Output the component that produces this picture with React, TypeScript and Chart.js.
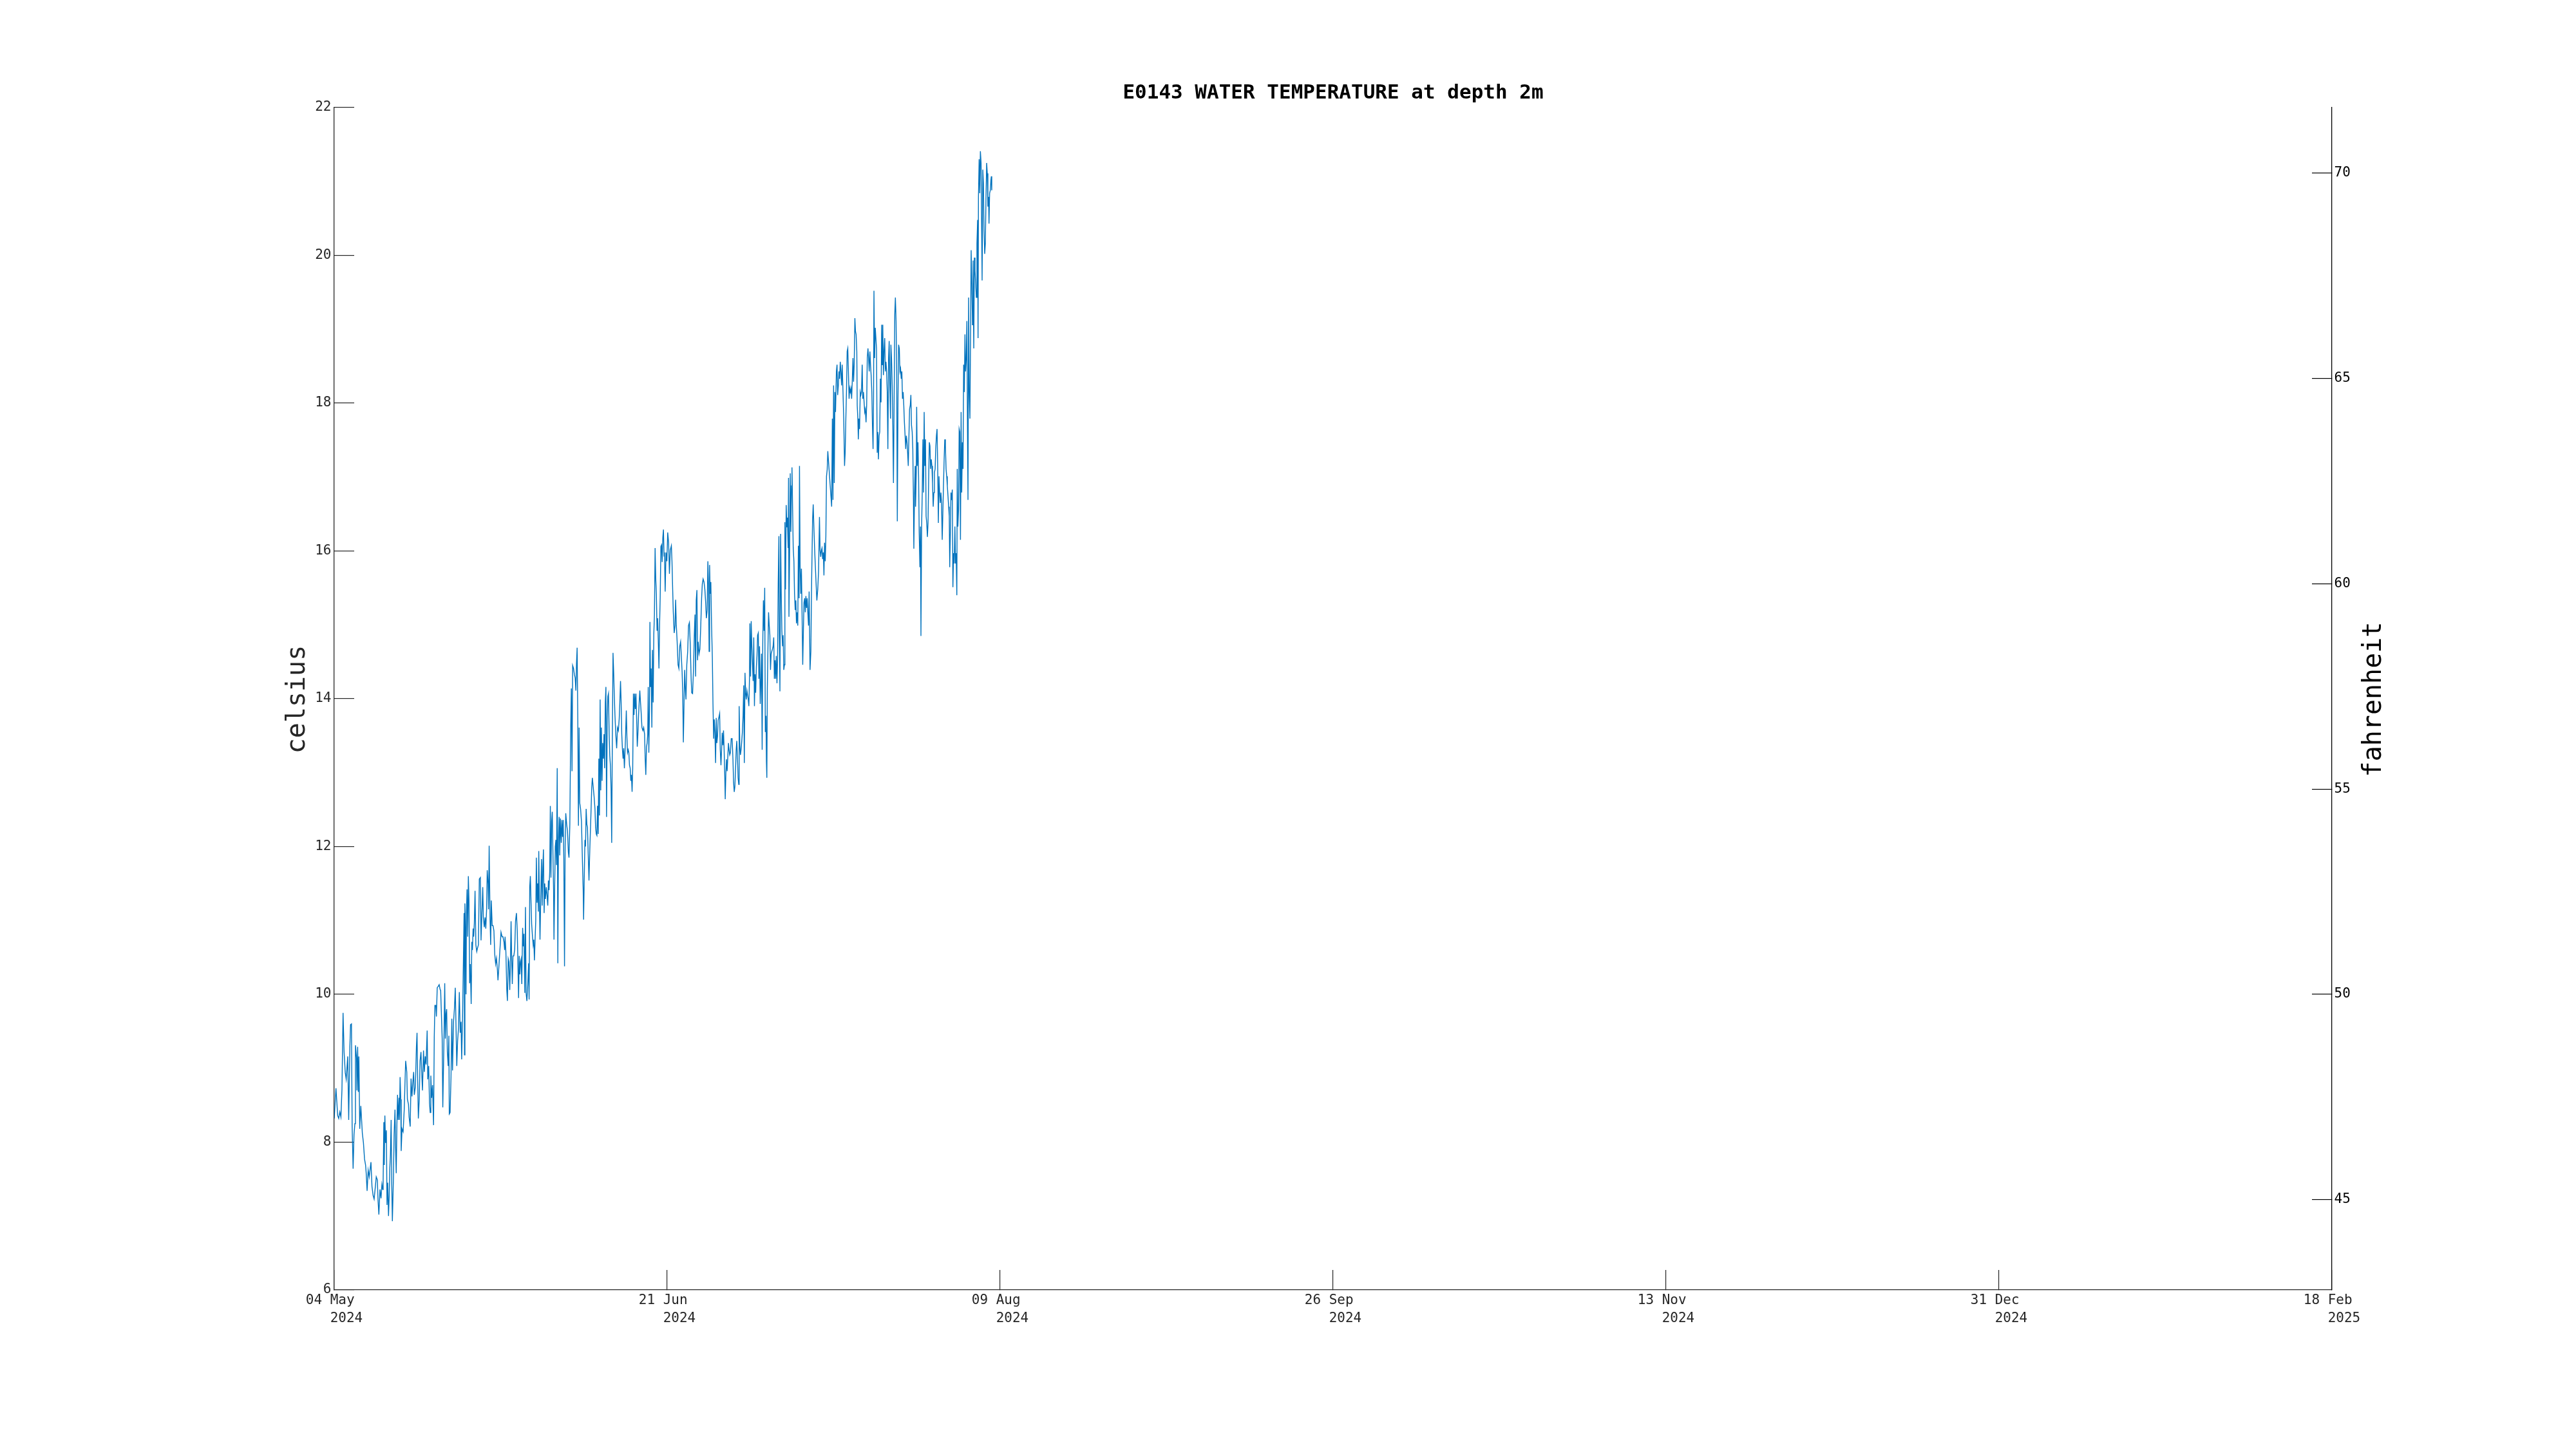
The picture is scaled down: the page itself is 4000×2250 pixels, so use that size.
import React, { useEffect, useRef } from "react";
import { Chart, registerables } from "chart.js";

Chart.register(...registerables);

const chartTitle = "E0143 WATER TEMPERATURE at depth 2m";
const leftAxisTitle = "celsius";
const rightAxisTitle = "fahrenheit";

// x axis: days since 04 May 2024
const xTickDays = [0, 48.333, 96.667, 145, 193.333, 241.667, 290];
const xTickLabels = [
  ["04 May ", "   2024"],
  ["21 Jun ", "   2024"],
  ["09 Aug ", "   2024"],
  ["26 Sep ", "   2024"],
  ["13 Nov ", "   2024"],
  ["31 Dec ", "   2024"],
  ["18 Feb ", "   2025"],
];
const celsiusTicks = [6, 8, 10, 12, 14, 16, 18, 20, 22];
const fahrenheitTicks = [45, 50, 55, 60, 65, 70];

const sampleDays = [
  0, 0.25, 0.5, 0.65, 0.81, 0.97, 1.12, 1.28, 1.43, 1.6,
  1.74, 1.96, 2.1, 2.27, 2.37, 2.5, 2.6, 2.74, 2.87, 3.0,
  3.08, 3.24, 3.3, 3.4, 3.5, 3.58, 3.7, 3.86, 4.08, 4.24,
  4.4, 4.55, 4.64, 4.77, 4.93, 5.08, 5.23, 5.33, 5.48, 5.64,
  5.79, 5.95, 6.1, 6.26, 6.36, 6.48, 6.64, 6.79, 6.92, 7.04,
  7.1, 7.2, 7.26, 7.35, 7.45, 7.57, 7.66, 7.76, 7.88, 7.98,
  8.07, 8.16, 8.26, 8.35, 8.44, 8.6, 8.69, 8.82, 8.91, 9.0,
  9.1, 9.19, 9.28, 9.41, 9.47, 9.56, 9.66, 9.72, 9.84, 10.0,
  10.16, 10.25, 10.37, 10.53, 10.62, 10.78, 10.87, 11.03, 11.15, 11.28,
  11.4, 11.53, 11.62, 11.78, 11.93, 12.02, 12.12, 12.21, 12.34, 12.46,
  12.59, 12.68, 12.81, 12.96, 13.08, 13.21, 13.33, 13.49, 13.58, 13.71,
  13.83, 13.93, 14.02, 14.14, 14.27, 14.42, 14.52, 14.61, 14.74, 14.83,
  14.95, 15.11, 15.23, 15.36, 15.45, 15.55, 15.67, 15.76, 15.92, 16.04,
  16.13, 16.23, 16.32, 16.42, 16.54, 16.64, 16.7, 16.82, 16.95, 17.07,
  17.17, 17.32, 17.45, 17.57, 17.69, 17.79, 17.91, 18.04, 18.16, 18.29,
  18.41, 18.5, 18.63, 18.75, 18.85, 18.91, 18.97, 19.07, 19.13, 19.19,
  19.28, 19.38, 19.47, 19.56, 19.66, 19.75, 19.88, 19.97, 20.06, 20.16,
  20.25, 20.34, 20.44, 20.56, 20.69, 20.81, 20.93, 21.06, 21.21, 21.31,
  21.43, 21.56, 21.65, 21.78, 21.9, 22.0, 22.12, 22.21, 22.34, 22.4,
  22.49, 22.62, 22.71, 22.8, 22.93, 23.05, 23.18, 23.3, 23.43, 23.55,
  23.68, 23.77, 23.9, 24.05, 24.21, 24.36, 24.49, 24.64, 24.74, 24.8,
  24.92, 25.05, 25.14, 25.26, 25.36, 25.48, 25.57, 25.67, 25.76, 25.85,
  25.95, 26.07, 26.2, 26.32, 26.45, 26.57, 26.67, 26.76, 26.85, 26.95,
  27.04, 27.13, 27.23, 27.35, 27.45, 27.54, 27.66, 27.76, 27.85, 27.97,
  28.1, 28.22, 28.29, 28.38, 28.47, 28.57, 28.66, 28.78, 28.88, 28.97,
  29.06, 29.16, 29.25, 29.34, 29.44, 29.53, 29.63, 29.69, 29.78, 29.87,
  30.0, 30.09, 30.19, 30.28, 30.37, 30.47, 30.56, 30.65, 30.78, 30.9,
  31.0, 31.09, 31.18, 31.28, 31.37, 31.46, 31.56, 31.65, 31.74, 31.84,
  31.9, 31.99, 32.09, 32.18, 32.27, 32.37, 32.46, 32.55, 32.65, 32.74,
  32.83, 32.96, 33.05, 33.15, 33.24, 33.33, 33.43, 33.52, 33.61, 33.74,
  33.86, 33.99, 34.08, 34.2, 34.33, 34.42, 34.52, 34.61, 34.74, 34.86,
  34.98, 35.08, 35.17, 35.26, 35.36, 35.45, 35.55, 35.64, 35.76, 35.89,
  36.01, 36.14, 36.2, 36.29, 36.39, 36.48, 36.57, 36.67, 36.76, 36.85,
  36.98, 37.1, 37.26, 37.38, 37.47, 37.6, 37.72, 37.85, 37.94, 38.04,
  38.13, 38.22, 38.32, 38.41, 38.5, 38.6, 38.69, 38.78, 38.88, 38.97,
  39.07, 39.16, 39.25, 39.35, 39.44, 39.53, 39.63, 39.72, 39.81, 39.91,
  40.0, 40.09, 40.19, 40.28, 40.37, 40.47, 40.56, 40.65, 40.75, 40.87,
  41.0, 41.12, 41.25, 41.37, 41.46, 41.56, 41.65, 41.74, 41.84, 41.93,
  42.02, 42.12, 42.21, 42.3, 42.4, 42.49, 42.58, 42.68, 42.77, 42.86,
  42.96, 43.05, 43.14, 43.24, 43.33, 43.43, 43.52, 43.61, 43.71, 43.8,
  43.9, 43.99, 44.08, 44.18, 44.27, 44.36, 44.46, 44.55, 44.67, 44.8,
  44.92, 45.05, 45.14, 45.23, 45.33, 45.42, 45.51, 45.58, 45.67, 45.77,
  45.83, 45.92, 46.01, 46.11, 46.2, 46.3, 46.39, 46.48, 46.58, 46.67,
  46.76, 46.86, 46.95, 47.04, 47.14, 47.23, 47.32, 47.42, 47.51, 47.6,
  47.7, 47.79, 47.88,
  47.94, 48.04, 48.16, 48.29, 48.41, 48.54, 48.66, 48.78, 48.94, 49.03,
  49.13, 49.22, 49.35, 49.47, 49.56, 49.66, 49.78, 49.91, 50.03, 50.16,
  50.28, 50.37, 50.5, 50.59, 50.68, 50.78, 50.87, 50.97, 51.06, 51.18,
  51.31, 51.43, 51.56, 51.68, 51.81, 51.9, 52.02, 52.15, 52.27, 52.37,
  52.46, 52.55, 52.65, 52.74, 52.83, 52.96, 53.08, 53.21, 53.33, 53.43,
  53.55, 53.68, 53.8, 53.92, 54.02, 54.14, 54.24, 54.33, 54.42, 54.49,
  54.58, 54.67, 54.77, 54.89, 54.98, 55.08, 55.17, 55.26, 55.36, 55.45,
  55.54, 55.64, 55.73, 55.82, 55.95, 56.04, 56.14, 56.23, 56.32, 56.42,
  56.51, 56.6, 56.7, 56.76, 56.85, 56.95, 57.04, 57.13, 57.23, 57.32,
  57.41, 57.51, 57.63, 57.76, 57.88, 57.97, 58.07, 58.16, 58.26, 58.35,
  58.44, 58.54, 58.63, 58.72, 58.78, 58.88, 58.97, 59.06, 59.16, 59.25,
  59.35, 59.44, 59.53, 59.63, 59.72, 59.81, 59.91, 60.0, 60.09, 60.19,
  60.28, 60.34, 60.44, 60.53, 60.62, 60.72, 60.81, 60.9, 61.0, 61.09,
  61.18, 61.28, 61.37, 61.46, 61.56, 61.65, 61.74, 61.84, 61.93, 62.02,
  62.12, 62.21, 62.3, 62.4, 62.49, 62.58, 62.68, 62.74, 62.8, 62.87,
  62.96, 63.05, 63.15, 63.24, 63.33, 63.43, 63.52, 63.61, 63.71, 63.8,
  63.89, 63.99, 64.08, 64.17, 64.27, 64.36, 64.45, 64.55, 64.61, 64.7,
  64.8, 64.89, 64.98, 65.08, 65.17, 65.26, 65.36, 65.42, 65.51, 65.61,
  65.7, 65.79, 65.89, 65.95, 66.01, 66.1, 66.2, 66.29, 66.38, 66.45,
  66.54, 66.63, 66.73, 66.82, 66.92, 67.01, 67.1, 67.2, 67.29, 67.38,
  67.48, 67.54, 67.63, 67.73, 67.82, 67.91, 68.01, 68.1, 68.19, 68.29,
  68.38, 68.47, 68.57, 68.66, 68.75, 68.85, 68.94, 69.07, 69.19, 69.31,
  69.44, 69.53, 69.63, 69.72, 69.81, 69.94, 70.06, 70.19, 70.31, 70.44,
  70.53, 70.62, 70.72, 70.81, 70.9, 71.0, 71.09, 71.18, 71.28, 71.37,
  71.46, 71.56, 71.65, 71.74,
  72.21, 72.31, 72.4, 72.49, 72.59, 72.68, 72.77, 72.9, 72.99, 73.08,
  73.18, 73.27, 73.36, 73.46, 73.55, 73.65, 73.74, 73.83, 73.96, 74.08,
  74.17, 74.27, 74.36, 74.46, 74.55, 74.64, 74.74, 74.83, 74.92, 75.02,
  75.11, 75.2, 75.3, 75.39, 75.48, 75.58, 75.67, 75.76, 75.86, 75.92,
  76.01, 76.08, 76.17, 76.26, 76.36, 76.45, 76.54, 76.64, 76.73, 76.82,
  76.92, 77.01, 77.1, 77.2, 77.29, 77.38, 77.48, 77.57, 77.66, 77.76,
  77.85, 77.94, 78.04, 78.13, 78.22, 78.29, 78.35, 78.44, 78.54, 78.63,
  78.72, 78.82, 78.91, 79.0, 79.1, 79.19, 79.28, 79.38, 79.47, 79.56,
  79.63, 79.72, 79.81, 79.91, 80.0, 80.09, 80.19, 80.28, 80.37, 80.47,
  80.56, 80.65, 80.75, 80.81, 80.9, 81.0, 81.09, 81.18, 81.28, 81.37,
  81.46, 81.56, 81.65, 81.74, 81.84, 81.93, 82.03, 82.12, 82.21, 82.31,
  82.4, 82.49, 82.59, 82.68, 82.77, 82.87, 82.96, 83.05, 83.15, 83.24,
  83.33, 83.43, 83.52, 83.62, 83.71, 83.8, 83.9, 83.99, 84.08, 84.14,
  84.24, 84.33, 84.39, 84.49, 84.55, 84.64, 84.74, 84.83, 84.92, 85.02,
  85.11, 85.17, 85.27, 85.36, 85.45, 85.55, 85.64, 85.73, 85.83, 85.92,
  86.01, 86.11, 86.2, 86.29, 86.39, 86.48, 86.57, 86.67, 86.76, 86.85,
  86.95, 87.04, 87.13, 87.23, 87.32, 87.42, 87.51, 87.6, 87.7, 87.79,
  87.88, 87.98, 88.07, 88.16, 88.26, 88.35, 88.44, 88.54, 88.63, 88.72,
  88.82, 88.91, 89.0, 89.1, 89.19, 89.28, 89.35, 89.44, 89.53, 89.63,
  89.72, 89.81, 89.91, 90.0, 90.1, 90.19, 90.28, 90.38, 90.44, 90.53,
  90.63, 90.72, 90.81, 90.91, 91.0, 91.09, 91.19, 91.28, 91.37, 91.47,
  91.56, 91.65, 91.75, 91.84, 91.93, 92.0, 92.09, 92.18, 92.28, 92.37,
  92.46, 92.56, 92.65, 92.74, 92.84, 92.93, 93.02, 93.12, 93.21, 93.3,
  93.4, 93.46, 93.52, 93.62, 93.71, 93.8, 93.9, 93.99, 94.05, 94.15,
  94.24, 94.33, 94.43, 94.52, 94.61, 94.71, 94.8, 94.89, 94.99, 95.05,
  95.14, 95.24, 95.33, 95.39, 95.45,
];

const tempC = [
  8.32, 8.73, 8.36, 8.32, 8.41, 8.34, 8.71, 9.75, 9.22, 8.94,
  8.85, 9.16, 8.3, 9.29, 9.59, 9.6, 8.21, 7.64, 8.1, 8.25,
  9.31, 9.14, 8.7, 9.29, 8.68, 9.16, 8.18, 8.49, 8.12, 7.99,
  7.77, 7.69, 7.58, 7.34, 7.62, 7.53, 7.65, 7.73, 7.4, 7.28,
  7.23, 7.38, 7.53, 7.49, 7.21, 7.02, 7.36, 7.24, 7.43, 7.36,
  7.47, 8.27, 7.69, 8.36, 7.99, 8.16, 7.15, 7.45, 7.0, 7.28,
  7.65, 7.84, 8.3, 7.43, 6.93, 7.55, 8.1, 8.44, 7.92, 7.58,
  8.25, 8.64, 8.3, 8.6, 8.3, 8.88, 8.58, 7.88, 8.18, 8.14,
  8.44, 8.73, 9.1, 8.95, 8.58, 8.51, 8.34, 8.21, 8.86, 8.62,
  8.8, 8.95, 8.64, 8.75, 9.29, 9.48, 8.8, 8.32, 8.58, 9.1,
  9.22, 8.99, 8.7, 9.24, 8.95, 9.16, 9.05, 9.51, 8.85, 9.03,
  8.53, 8.4, 8.9, 8.6, 8.77, 8.23, 9.42, 9.85, 9.85, 9.7,
  10.09, 10.11, 10.13, 10.07, 10.05, 9.76, 9.4, 8.47, 9.33, 10.15,
  9.4, 9.74, 9.8, 9.22, 9.03, 9.44, 8.38, 8.4, 8.88, 9.67,
  8.97, 9.63, 9.81, 10.09, 9.51, 9.03, 9.37, 9.55, 10.03, 9.48,
  9.63, 9.12, 9.7, 10.45, 11.1, 9.18, 11.23, 10.82, 10.0, 11.08,
  11.42, 10.78, 11.6, 11.27, 10.15, 10.41, 9.87, 10.71, 10.6, 10.89,
  10.78, 10.97, 11.4, 10.67, 10.58, 10.63, 10.67, 11.56, 11.58, 10.73,
  11.08, 11.45, 11.04, 10.91, 11.04, 10.89, 11.15, 11.68, 11.49, 11.15,
  12.01, 11.01, 10.67, 11.27, 10.93, 10.93, 10.86, 10.54, 10.41, 10.49,
  10.34, 10.19, 10.37, 10.6, 10.84, 10.78, 10.78, 10.71, 10.6, 10.78,
  10.57, 10.06, 9.91, 10.48, 10.44, 10.06, 10.4, 10.99, 10.48, 10.14,
  10.52, 10.52, 10.61, 10.99, 11.1, 10.86, 10.4, 9.95, 10.52, 10.27,
  10.44, 10.48, 10.14, 10.9, 10.65, 10.82, 10.02, 11.18, 10.02, 9.91,
  10.14, 10.42, 9.93, 11.45, 11.6, 11.24, 10.95, 10.78, 10.67, 10.74,
  10.46, 10.74, 10.99, 11.85, 11.24, 11.5, 11.12, 11.94, 11.29, 10.74,
  11.41, 11.83, 11.2, 11.71, 11.96, 11.1, 11.5, 11.29, 11.45, 11.33,
  11.2, 11.54, 11.41, 11.66, 12.55, 11.58, 12.34, 12.47, 11.96, 11.41,
  10.74, 11.41, 12.0, 12.09, 11.75, 13.06, 10.42, 12.09, 12.4, 11.88,
  12.38, 12.05, 12.36, 12.13, 12.36, 11.83, 10.38, 12.0, 12.45, 12.3,
  12.21, 11.92, 11.85, 12.3, 13.61, 14.14, 13.02, 14.45, 14.41, 14.33,
  14.28, 14.11, 14.47, 14.69, 13.69, 12.28, 13.61, 12.59, 12.51, 12.34,
  11.88, 11.41, 11.01, 11.54, 12.09, 12.0, 12.51, 12.3, 12.26, 11.96,
  11.54, 11.96, 12.42, 12.8, 12.93, 12.8, 12.68, 12.51, 12.26, 12.17,
  12.15, 12.55, 12.17, 13.19, 12.42, 13.99, 12.76, 13.61, 12.89, 13.4,
  13.19, 13.52, 13.06, 13.95, 14.16, 12.4, 13.73, 14.03, 14.07, 13.52,
  13.23, 13.1, 12.78, 12.05, 13.44, 14.62, 14.37, 14.07, 13.78, 13.52,
  13.33, 13.61, 13.57, 13.73, 13.95, 14.24, 13.95, 13.52, 13.31, 13.19,
  13.33, 13.06, 13.27, 13.52, 13.84, 13.48, 13.27, 13.31, 13.27, 13.1,
  13.06, 12.89, 12.97, 12.74, 13.06, 14.07, 13.78, 14.07, 13.86, 14.07,
  13.73, 13.35, 13.52, 13.78, 13.95, 14.11, 13.95, 13.82, 13.61, 13.57,
  13.61, 13.52, 13.19, 12.97, 13.35, 13.4, 13.52, 14.16, 13.27, 13.86,
  15.04, 14.16, 14.41, 13.61, 14.66, 13.95, 14.87, 15.13, 16.04, 15.63,
  15.42, 14.92, 15.09, 14.79, 14.41, 15.0, 15.38, 16.06, 16.08, 15.85,
  16.18, 16.29, 15.93,
  15.98, 15.45, 15.98, 15.86, 16.25, 16.11, 15.69, 16.01, 16.07, 15.86,
  15.48, 15.17, 14.89, 14.99, 15.34, 14.99, 14.77, 14.46, 14.41, 14.71,
  14.77, 14.61, 14.36, 14.08, 13.41, 13.93, 14.39, 14.14, 13.99, 14.46,
  14.64, 14.99, 15.03, 14.74, 14.27, 14.08, 14.07, 14.39, 14.86, 15.14,
  14.3, 15.33, 15.47, 14.52, 14.77, 14.61, 14.67, 14.99, 15.36, 15.55,
  15.62, 15.58, 15.48, 15.3, 15.09, 15.2, 15.86, 15.55, 14.64, 15.81,
  15.42, 15.58, 15.02, 14.55, 13.93, 13.46, 13.72, 13.55, 13.13, 13.74,
  13.4, 13.49, 13.71, 13.74, 13.8, 13.31, 13.1, 13.31, 13.54, 13.37,
  13.57, 13.31, 12.93, 12.64, 12.99, 13.18, 13.02, 13.21, 13.4, 13.31,
  13.24, 13.27, 13.46, 13.46, 13.18, 12.87, 12.74, 12.81, 13.06, 13.31,
  13.43, 13.18, 12.93, 12.84, 13.9, 13.37, 13.24, 13.31, 13.43, 13.55,
  13.77, 14.18, 13.13, 14.35, 14.08, 13.99, 14.11, 14.05, 14.0, 13.9,
  14.27, 15.02, 14.3, 15.05, 14.71, 14.46, 14.24, 14.83, 13.9, 14.33,
  14.08, 14.43, 14.58, 14.86, 14.89, 14.27, 14.71, 13.93, 14.21, 14.61,
  13.31, 14.74, 15.33, 14.92, 15.5, 13.55, 13.77, 13.15, 12.93, 14.14,
  14.67, 15.17, 14.99, 14.86, 14.39, 14.61, 14.64, 14.67, 14.71, 14.83,
  14.27, 14.52, 14.27, 14.58, 14.21, 14.55, 15.56, 16.2, 14.86, 14.1,
  16.23, 15.42, 14.92, 14.71, 14.86, 14.39, 14.46, 16.39, 15.48, 16.62,
  16.32, 16.45, 16.04, 16.99, 15.11, 15.95, 17.05, 16.26, 16.88, 17.13,
  16.57, 16.04, 15.86, 15.42, 15.2, 15.33, 15.02, 15.17, 14.99, 16.07,
  15.36, 17.15, 15.79, 15.42, 15.76, 15.17, 14.46, 14.89, 15.3, 15.36,
  15.17, 15.39, 15.23, 15.36, 15.17, 14.99, 15.45, 14.39, 14.64, 15.64,
  16.42, 16.63, 16.32, 16.07, 15.86, 15.58, 15.33, 15.48, 15.73, 16.46,
  16.01, 15.92, 16.01, 16.04, 15.89, 15.98, 15.67, 16.11, 15.86, 16.2,
  17.01, 17.1, 17.35, 17.23,
  16.6, 17.79, 16.69, 18.24, 16.92, 18.15, 17.88, 18.43, 18.52, 18.11,
  18.24, 18.43, 18.33, 18.56, 18.43, 18.24, 18.52, 18.24, 17.79, 17.15,
  17.33, 17.79, 18.15, 18.7, 18.74, 18.43, 18.06, 18.2, 18.15, 18.2,
  18.06, 18.29, 18.61, 18.29, 18.52, 19.15, 18.97, 18.93, 18.7, 17.97,
  17.79, 17.51, 17.79, 17.65, 18.15, 18.11, 18.15, 18.52, 18.06, 18.15,
  18.01, 17.88, 17.92, 17.74, 17.97, 18.61, 18.74, 18.61, 18.43, 18.7,
  18.52, 18.38, 18.15, 17.7, 17.38, 18.06, 19.52, 18.61, 19.02, 18.88,
  18.74, 17.33, 17.61, 17.24, 17.56, 17.61, 18.33, 18.01, 19.06, 18.52,
  19.06, 18.38, 18.7, 18.88, 18.43, 18.56, 18.43, 18.15, 17.38, 18.61,
  18.84, 18.24, 17.79, 18.79, 18.61, 18.24, 17.7, 16.92, 18.06, 19.2,
  19.43, 19.11, 18.43, 16.4, 18.06, 18.79, 18.74, 18.43, 18.47, 18.33,
  18.43, 18.06, 18.15, 17.97, 17.74, 17.56, 17.38, 17.56, 17.47, 17.33,
  17.15, 17.56, 17.92, 17.97, 18.11, 17.7, 17.61, 17.38, 16.69, 16.03,
  16.79, 17.15, 16.6, 17.06, 17.95, 17.15, 17.47, 17.01, 16.24, 15.78,
  16.33, 14.85, 16.33, 16.79, 17.51, 16.79, 17.88, 17.15, 17.51, 16.47,
  16.38, 16.19, 16.38, 16.97, 17.47, 17.42, 17.11, 17.24, 17.15, 16.92,
  16.6, 16.79, 17.06, 17.11, 17.38, 17.56, 17.65, 17.15, 16.38, 17.01,
  16.79, 16.65, 16.79, 16.65, 16.15, 16.51, 16.88, 17.24, 17.51, 17.42,
  17.11, 17.01, 16.88, 16.74, 16.6, 16.47, 15.78, 16.24, 16.79, 16.69,
  16.83, 15.51, 15.97, 15.83, 16.33, 15.83, 15.97, 15.4, 17.11, 16.33,
  16.56, 17.65, 17.61, 16.15, 17.88, 16.79, 17.47, 17.11, 18.52, 18.15,
  18.93, 18.43, 18.61, 19.11, 17.61, 16.69, 19.43, 18.15, 17.79, 18.88,
  20.07, 19.61, 19.06, 19.93, 18.74, 19.97, 19.79, 19.61, 19.43, 20.16,
  20.48, 18.88, 20.79, 21.3, 20.84, 21.41, 21.25, 20.34, 19.66, 21.16,
  20.98, 20.34, 20.02, 20.16, 20.75, 21.25, 21.11, 20.66, 20.79, 20.43,
  20.84, 20.88, 21.02, 21.07, 20.88,
];

const FONT = '"DejaVu Sans Mono", "Liberation Mono", monospace';
const AXIS_GRAY = "#262626";
const LINE_BLUE = "#0072BD";

const titlesPlugin = {
  id: "matlabTitles",
  afterDraw(chart: any) {
    const { ctx, chartArea } = chart;
    const cx = (chartArea.left + chartArea.right) / 2;
    const cy = (chartArea.top + chartArea.bottom) / 2 + 1;
    ctx.save();
    ctx.textAlign = "center";
    ctx.textBaseline = "alphabetic";
    ctx.fillStyle = "#000000";
    ctx.font = `bold 31px ${FONT}`;
    ctx.fillText(chartTitle, cx, chartArea.top - 14);

    ctx.font = `40px ${FONT}`;
    ctx.fillStyle = AXIS_GRAY;
    ctx.save();
    ctx.translate(chartArea.left - 46, cy);
    ctx.rotate(-Math.PI / 2);
    ctx.fillText(leftAxisTitle, 0, 0);
    ctx.restore();

    ctx.fillStyle = "#000000";
    ctx.save();
    ctx.translate(chartArea.right + 76, cy);
    ctx.rotate(-Math.PI / 2);
    ctx.fillText(rightAxisTitle, 0, 0);
    ctx.restore();
    ctx.restore();
  },
};

export default function App() {
  const canvasRef = useRef<HTMLCanvasElement | null>(null);

  useEffect(() => {
    const canvas = canvasRef.current;
    if (!canvas) return;
    const points = sampleDays.map((d, i) => ({ x: d, y: tempC[i] }));
    const tickFont = { family: FONT, size: 21, lineHeight: 1.357 };

    const chart = new Chart(canvas, {
      type: "line",
      data: {
        datasets: [
          {
            data: points,
            borderColor: LINE_BLUE,
            borderWidth: 1.4,
            pointRadius: 0,
            tension: 0,
            fill: false,
            xAxisID: "x",
            yAxisID: "y",
          },
        ],
      },
      options: {
        responsive: false,
        devicePixelRatio: 1,
        animation: false,
        events: [],
        layout: { padding: { top: 167, left: 0, right: 0, bottom: 0 } },
        plugins: {
          legend: { display: false },
          tooltip: { enabled: false },
          title: { display: false },
        },
        scales: {
          x: {
            type: "linear",
            position: "bottom",
            min: 0,
            max: 290,
            afterBuildTicks: (s: any) => {
              s.ticks = xTickDays.map((v) => ({ value: v }));
            },
            afterFit: (s: any) => {
              s.height = 247;
            },
            ticks: {
              autoSkip: false,
              maxRotation: 0,
              minRotation: 0,
              padding: 33,
              color: AXIS_GRAY,
              font: tickFont,
              callback: (_v: any, i: number) => xTickLabels[i],
            },
            grid: {
              drawOnChartArea: false,
              drawTicks: true,
              tickLength: -31,
              color: AXIS_GRAY,
              lineWidth: 1.2,
            },
            border: { display: true, color: AXIS_GRAY, width: 1.3 },
          },
          y: {
            type: "linear",
            position: "left",
            min: 6,
            max: 22,
            afterBuildTicks: (s: any) => {
              s.ticks = celsiusTicks.map((v) => ({ value: v }));
            },
            afterFit: (s: any) => {
              s.width = 519;
            },
            ticks: {
              padding: 35.5,
              color: AXIS_GRAY,
              font: tickFont,
              callback: (v: any) => String(v),
            },
            grid: {
              drawOnChartArea: false,
              drawTicks: true,
              tickLength: -31,
              color: AXIS_GRAY,
              lineWidth: 1.2,
            },
            border: { display: true, color: AXIS_GRAY, width: 1.3 },
          },
          y2: {
            type: "linear",
            position: "right",
            min: 42.8,
            max: 71.6,
            afterBuildTicks: (s: any) => {
              s.ticks = fahrenheitTicks.map((v) => ({ value: v }));
            },
            afterFit: (s: any) => {
              s.width = 379;
            },
            ticks: {
              padding: 34.5,
              color: "#000000",
              font: tickFont,
              callback: (v: any) => String(v),
            },
            grid: {
              drawOnChartArea: false,
              drawTicks: true,
              tickLength: -31,
              color: "#000000",
              lineWidth: 1.2,
            },
            border: { display: true, color: "#000000", width: 1.3 },
          },
        },
      } as any,
      plugins: [titlesPlugin],
    });

    return () => {
      chart.destroy();
    };
  }, []);

  return (
    <div
      style={{
        position: "fixed",
        left: 0,
        top: 0,
        width: 4000,
        height: 2250,
        background: "#ffffff",
      }}
    >
      <canvas
        ref={canvasRef}
        width={4000}
        height={2250}
        style={{ display: "block", width: 4000, height: 2250 }}
      />
    </div>
  );
}
